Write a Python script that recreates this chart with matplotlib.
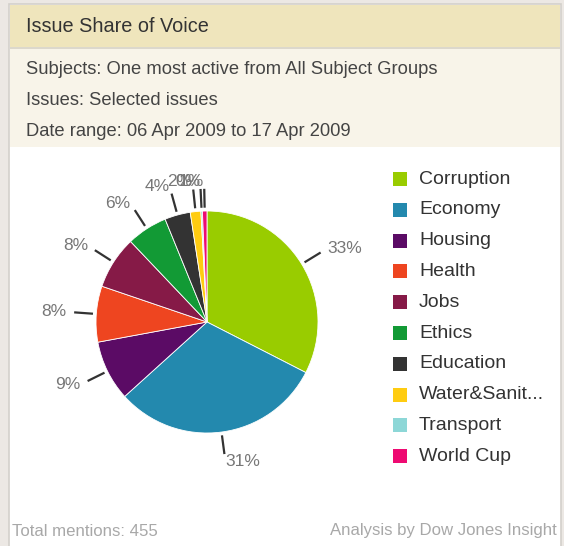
import numpy as np
import matplotlib
matplotlib.use("Agg")
import matplotlib.pyplot as plt
from matplotlib.patches import Rectangle

# ---- data ----
categories = ["Corruption", "Economy", "Housing", "Health", "Jobs", "Ethics",
              "Education", "Water&Sanit...", "Transport", "World Cup"]
mentions = [148, 140, 40, 37, 35, 27, 17, 7, 1, 3]
colors = ["#99cc00", "#2389ae", "#5b0b65", "#ee4520", "#861a47", "#129a35",
          "#333333", "#ffcc11", "#8dd7d7", "#ee0a72"]
title = "Issue Share of Voice"
subtitle_lines = ["Subjects: One most active from All Subject Groups",
                  "Issues: Selected issues",
                  "Date range: 06 Apr 2009 to 17 Apr 2009"]
footer_left = "Total mentions: 455"
footer_right = "Analysis by Dow Jones Insight"

W, H = 564, 546
plt.rcParams['font.family'] = ['Liberation Sans', 'DejaVu Sans']
fig = plt.figure(figsize=(W / 100, H / 100), dpi=100)
fig.patch.set_facecolor("#ffffff")

# background layer in pixel coordinates (top-left origin)
bg = fig.add_axes([0, 0, 1, 1])
bg.set_xlim(0, W)
bg.set_ylim(H, 0)
bg.axis("off")
bg.add_patch(Rectangle((0, 0), W, H, color="#ece8e4", zorder=0))
bg.add_patch(Rectangle((9, 4), 552, H, facecolor="#ffffff", edgecolor="#d3d0cb", lw=1.2, zorder=1))
bg.add_patch(Rectangle((10, 5), 550, 42, facecolor="#efe5bc", edgecolor="none", zorder=2))
bg.add_patch(Rectangle((10, 47), 550, 1.5, facecolor="#dcd8cc", edgecolor="none", zorder=2))
bg.add_patch(Rectangle((10, 48.5), 550, 98.5, facecolor="#f8f4e9", edgecolor="none", zorder=2))

bg.text(26, 27, title, fontsize=14.3, color="#333333", va="center", ha="left", zorder=3)
for i, line in enumerate(subtitle_lines):
    bg.text(26, 69 + i * 31.5, line, fontsize=13.2, color="#444444", va="center", ha="left", zorder=3)
bg.text(12, 531, footer_left, fontsize=12.1, color="#a8a8a8", va="center", ha="left", zorder=3)
bg.text(557, 531, footer_right, fontsize=12.1, color="#a8a8a8", va="center", ha="right", zorder=3)

# legend
leg_x, leg_y0, leg_dy = 393, 179, 30.8
for i, (c, name) in enumerate(zip(colors, categories)):
    y = leg_y0 + i * leg_dy
    bg.add_patch(Rectangle((leg_x, y - 7), 14, 14, facecolor=c, edgecolor="none", zorder=3))
    bg.text(leg_x + 26, y, name, fontsize=14, color="#333333", va="center", ha="left", zorder=3)

# pie
cx, cy, R = 207, 322, 111
span = 2.0  # axes half-extent in radius units
size = 2 * R * span
pie_ax = fig.add_axes([(cx - R * span) / W, (H - cy - R * span) / H, size / W, size / H])
pie_ax.patch.set_alpha(0)

wedges, _ = pie_ax.pie(mentions, colors=colors, startangle=90, counterclock=False,
                       radius=1.0, wedgeprops=dict(linewidth=0.6, edgecolor="#ffffff"))
pie_ax.set_xlim(-span, span)
pie_ax.set_ylim(-span, span)
pie_ax.set_aspect("equal")
pie_ax.axis("off")

total = float(sum(mentions))
for w, m in zip(wedges, mentions):
    ang = np.deg2rad((w.theta1 + w.theta2) / 2.0)
    ca, sa = np.cos(ang), np.sin(ang)
    pie_ax.plot([1.03 * ca, 1.2 * ca], [1.03 * sa, 1.2 * sa], color="#333333", lw=1.6,
                solid_capstyle="butt", clip_on=False)
    ha = "left" if ca > 0.02 else "right"
    pie_ax.text(1.27 * ca, 1.27 * sa, f"{round(100 * m / total):.0f}%", fontsize=12.5,
                color="#777777", ha=ha, va="center", clip_on=False)

fig.savefig("out.png", dpi=100)
